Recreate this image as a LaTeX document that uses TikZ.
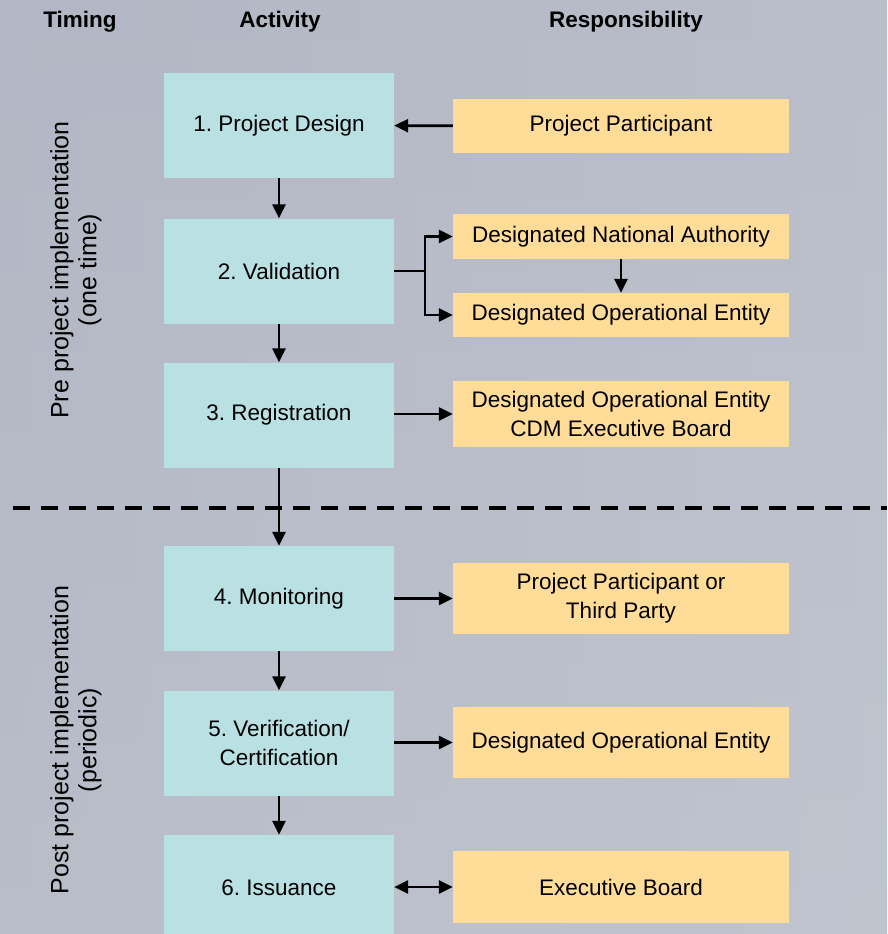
\documentclass[tikz,border=0pt]{standalone}
\usepackage{fontspec}
\setmainfont{Liberation Sans}
\usetikzlibrary{arrows.meta}
\frenchspacing

\definecolor{skyA}{HTML}{B3B7C5}
\definecolor{skyB}{HTML}{C2C7D0}
\definecolor{skyC}{HTML}{BDC3CC}
\definecolor{activity}{HTML}{B9E0E3}
\definecolor{duty}{HTML}{FFDD99}

\tikzset{
  txt/.style={font=\fontsize{22.5}{29}\selectfont, align=center, text=black},
  side/.style={font=\fontsize{25}{28}\selectfont, align=center, text=black},
  head/.style={txt, font=\fontsize{22.5}{29}\selectfont\bfseries},
  actbox/.style={txt, fill=activity, minimum width=230pt, minimum height=105pt, inner sep=0pt},
  dutybox/.style={txt, fill=duty, minimum width=336pt, inner sep=0pt},
  tip/.tip={Triangle[length=14pt,width=13pt]},
  arr/.style={line width=2.8pt, -tip},
  link/.style={line width=2.8pt},
  both/.style={line width=2.8pt, tip-tip},
  divider/.style={line width=3.8pt, dash pattern=on 17pt off 11pt},
}

\begin{document}
\begin{tikzpicture}[x=1pt, y=-1pt]
  \useasboundingbox (0,0) rectangle (887,934);
  \clip (0,0) rectangle (887,934);

  % sky backdrop
  \shade[left color=skyA, right color=skyB] (0,0) rectangle (887,934);
  \shade[top color=skyA, bottom color=skyC, opacity=0.55] (0,0) rectangle (887,934);

  % column headings
  \node[head] (hT) at (80,22) {Timing};
  \node[head] (hA) at (280,22) {Activity};
  \node[head] (hR) at (626,22) {Responsibility};

  % timing labels
  \node[side, rotate=90] (pre) at (76,270) {Pre project implementation\\(one time)};
  \node[side, rotate=90] (post) at (76,740) {Post project implementation\\(periodic)};

  % activities
  \node[actbox] (a1) at (279,125.5) {1. Project Design};
  \node[actbox] (a2) at (279,271) {2. Validation};
  \node[actbox] (a3) at (279,415) {3. Registration};
  \node[actbox] (a4) at (279,598.5) {4. Monitoring};
  \node[actbox] (a5) at (279,743) {5. Verification/\\Certification};
  \node[actbox] (a6) at (279,887.5) {6. Issuance};

  % responsibilities
  \node[dutybox, minimum height=54pt] (r1) at (621,126) {Project Participant};
  \node[dutybox, minimum height=45pt] (r2) at (621,236.5) {Designated National Authority};
  \node[dutybox, minimum height=44pt] (r3) at (621,315) {Designated Operational Entity};
  \node[dutybox, minimum height=66pt] (r4) at (621,414) {Designated Operational Entity\\CDM Executive Board};
  \node[dutybox, minimum height=71pt] (r5) at (621,598.5) {Project Participant or\\Third Party};
  \node[dutybox, minimum height=71pt] (r6) at (621,742.5) {Designated Operational Entity};
  \node[dutybox, minimum height=72pt] (r7) at (621,887) {Executive Board};

  % phase divider
  \coordinate (dl) at (13,508);
  \coordinate (dr) at (887,508);
  \draw[divider] (dl) -- (dr);

  % activity sequence
  \draw[arr] (a1) -- (a2);
  \draw[arr] (a2) -- (a3);
  \draw[arr] (a3) -- (a4);
  \draw[arr] (a4) -- (a5);
  \draw[arr] (a5) -- (a6);

  % responsibility links
  \draw[arr] (r1) -- (a1);
  \coordinate (fork) at (425,271);
  \draw[link] (a2.east |- fork) -- (fork);
  \draw[arr] (fork) |- (r2.west);
  \draw[arr] (fork) |- (r3.west);
  \draw[arr] (r2) -- (r3);
  \draw[arr] (a3.east |- r4.west) -- (r4.west);
  \draw[arr] (a4) -- (r5);
  \draw[arr] (a5.east |- r6.west) -- (r6.west);
  \draw[both] (a6.east |- r7.west) -- (r7.west);
\end{tikzpicture}
\end{document}
